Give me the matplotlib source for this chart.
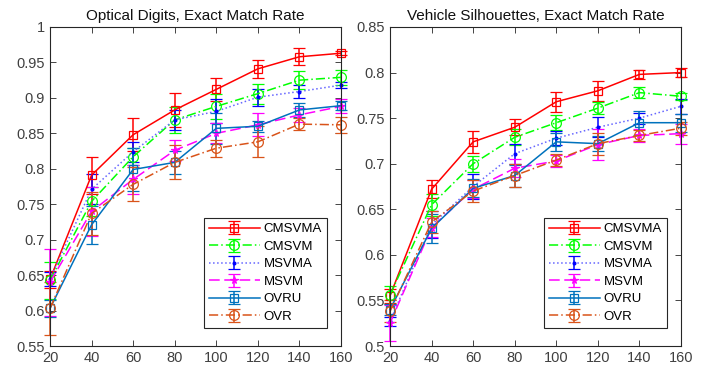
import matplotlib
matplotlib.use("Agg")
import matplotlib.pyplot as plt
from matplotlib.ticker import FormatStrFormatter, MultipleLocator

plt.rcParams['font.family'] = ['Liberation Sans', 'DejaVu Sans']

x = [20, 40, 60, 80, 100, 120, 140, 160]
methods = ['CMSVMA', 'CMSVM', 'MSVMA', 'MSVM', 'OVRU', 'OVR']

# Optical Digits — mean exact match rate and error bar half-width
od_cmsvma = [0.644, 0.791, 0.848, 0.883, 0.912, 0.941, 0.958, 0.963]
od_cmsvma_err = [0.012, 0.026, 0.023, 0.024, 0.016, 0.013, 0.012, 0.003]
od_cmsvm = [0.643, 0.754, 0.817, 0.869, 0.888, 0.906, 0.925, 0.929]
od_cmsvm_err = [0.026, 0.020, 0.012, 0.018, 0.018, 0.014, 0.013, 0.011]
od_msvma = [0.645, 0.771, 0.824, 0.869, 0.881, 0.901, 0.909, 0.918]
od_msvma_err = [0.010, 0.021, 0.014, 0.014, 0.017, 0.012, 0.009, 0.004]
od_msvm = [0.640, 0.740, 0.785, 0.826, 0.850, 0.862, 0.876, 0.888]
od_msvm_err = [0.047, 0.035, 0.020, 0.015, 0.014, 0.016, 0.010, 0.010]
od_ovru = [0.603, 0.721, 0.799, 0.809, 0.857, 0.860, 0.883, 0.889]
od_ovru_err = [0.012, 0.027, 0.030, 0.016, 0.022, 0.008, 0.010, 0.006]
od_ovr = [0.603, 0.737, 0.778, 0.809, 0.829, 0.838, 0.863, 0.862]
od_ovr_err = [0.037, 0.030, 0.024, 0.024, 0.012, 0.022, 0.008, 0.011]

# Vehicle Silhouettes
vs_cmsvma = [0.555, 0.672, 0.724, 0.740, 0.768, 0.780, 0.798, 0.800]
vs_cmsvma_err = [0.008, 0.010, 0.012, 0.009, 0.011, 0.011, 0.005, 0.005]
vs_cmsvm = [0.556, 0.655, 0.700, 0.729, 0.745, 0.761, 0.778, 0.774]
vs_cmsvm_err = [0.010, 0.012, 0.009, 0.009, 0.008, 0.007, 0.006, 0.004]
vs_msvma = [0.527, 0.633, 0.675, 0.711, 0.728, 0.740, 0.750, 0.763]
vs_msvma_err = [0.005, 0.015, 0.014, 0.011, 0.008, 0.011, 0.006, 0.008]
vs_msvm = [0.525, 0.630, 0.672, 0.695, 0.703, 0.721, 0.731, 0.733]
vs_msvm_err = [0.020, 0.010, 0.010, 0.010, 0.007, 0.017, 0.007, 0.011]
vs_ovru = [0.540, 0.629, 0.673, 0.687, 0.724, 0.722, 0.745, 0.745]
vs_ovru_err = [0.006, 0.016, 0.010, 0.012, 0.010, 0.008, 0.013, 0.010]
vs_ovr = [0.538, 0.636, 0.670, 0.687, 0.704, 0.722, 0.731, 0.739]
vs_ovr_err = [0.012, 0.012, 0.012, 0.013, 0.007, 0.012, 0.006, 0.007]

# line colour, error-bar colour, linestyle, marker, marker size
styles = {
    'CMSVMA': ('#FF0000', '#FF0000', '-', 's', 5.5),
    'CMSVM': ('#00FF00', '#00FF00', (0, (6, 2, 1, 2)), 'o', 7),
    'MSVMA': ('#6666FF', '#0000FF', ':', '.', 4),
    'MSVM': ('#FF00FF', '#FF00FF', (0, (7, 3)), '*', 5.5),
    'OVRU': ('#0072BD', '#0072BD', '-', 's', 5.5),
    'OVR': ('#D95319', '#D95319', (0, (6, 2, 1, 2)), 'o', 7),
}

fig = plt.figure(figsize=(7.2, 3.77), dpi=100)
ax1 = fig.add_axes([50 / 720, 1 - 346 / 377, 291 / 720, 319 / 377])
ax2 = fig.add_axes([390 / 720, 1 - 346 / 377, 291 / 720, 319 / 377])

panels = [
    (ax1, 'Optical Digits, Exact Match Rate',
     [(od_cmsvma, od_cmsvma_err), (od_cmsvm, od_cmsvm_err), (od_msvma, od_msvma_err),
      (od_msvm, od_msvm_err), (od_ovru, od_ovru_err), (od_ovr, od_ovr_err)],
     (0.55, 1.0)),
    (ax2, 'Vehicle Silhouettes, Exact Match Rate',
     [(vs_cmsvma, vs_cmsvma_err), (vs_cmsvm, vs_cmsvm_err), (vs_msvma, vs_msvma_err),
      (vs_msvm, vs_msvm_err), (vs_ovru, vs_ovru_err), (vs_ovr, vs_ovr_err)],
     (0.5, 0.85)),
]

for ax, title, series, ylim in panels:
    for name, (y, e) in zip(methods, series):
        lc, ec, ls, mk, ms = styles[name]
        c = ax.errorbar(x, y, yerr=e, color=lc, ecolor=ec, linestyle=ls, linewidth=1.1,
                        marker=mk, markersize=ms, markerfacecolor='none' if mk in 'so' else ec,
                        markeredgecolor=ec, markeredgewidth=0.9, elinewidth=1.1,
                        capsize=4, capthick=1.1, label=name)
        for art in c.lines[0:1] + tuple(c.lines[1]) + tuple(c.lines[2]):
            art.set_clip_on(False)
    ax.set_xlim(20, 160)
    ax.set_ylim(*ylim)
    ax.xaxis.set_major_locator(MultipleLocator(20))
    ax.yaxis.set_major_locator(MultipleLocator(0.05))
    ax.yaxis.set_major_formatter(FormatStrFormatter('%g'))
    ax.tick_params(direction='in', top=True, right=True, labelsize=10.5,
                   colors='#262626', labelcolor='#404040', length=4, width=0.6)
    for sp in ax.spines.values():
        sp.set_color('#262626')
        sp.set_linewidth(0.8)
    ax.set_title(title, fontsize=11, color='#111111', pad=5)
    leg = ax.legend(loc='lower right', fontsize=9.5, handlelength=3.8, labelspacing=0.4,
                    borderpad=0.4, handletextpad=0.3, fancybox=False, framealpha=1,
                    edgecolor='#262626', bbox_to_anchor=(0.975, 0.035))
    leg.get_frame().set_linewidth(0.8)

fig.savefig('out.png', dpi=100)
